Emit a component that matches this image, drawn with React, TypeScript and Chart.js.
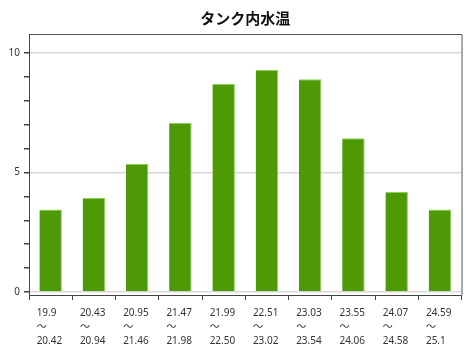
import React, { useEffect, useRef } from "react";
import { Chart, registerables } from "chart.js";

Chart.register(...registerables);

const title = "タンク内水温";
const categories: string[][] = [
  ["19.9", "～", "20.42"],
  ["20.43", "～", "20.94"],
  ["20.95", "～", "21.46"],
  ["21.47", "～", "21.98"],
  ["21.99", "～", "22.50"],
  ["22.51", "～", "23.02"],
  ["23.03", "～", "23.54"],
  ["23.55", "～", "24.06"],
  ["24.07", "～", "24.58"],
  ["24.59", "～", "25.1"],
];
const counts = [3.45, 3.93, 5.36, 7.08, 8.72, 9.29, 8.91, 6.43, 4.18, 3.45];
const yTicks = [0, 1, 2, 3, 4, 5, 6, 7, 8, 9, 10];
const yLabelled = [0, 5, 10];

const FONT = "'Noto Sans', 'Noto Sans CJK JP', sans-serif";

const framePlugin = {
  id: "frame",
  afterDraw(chart: any) {
    const { ctx, chartArea } = chart;
    ctx.save();
    ctx.strokeStyle = "#555";
    ctx.lineWidth = 1;
    ctx.beginPath();
    ctx.moveTo(chartArea.left, chartArea.top + 0.5);
    ctx.lineTo(chartArea.right + 0.5, chartArea.top + 0.5);
    ctx.lineTo(chartArea.right + 0.5, chartArea.bottom);
    ctx.stroke();
    ctx.restore();
  },
};

export default function App() {
  const ref = useRef<HTMLCanvasElement | null>(null);
  useEffect(() => {
    document.body.style.margin = "0";
    if (!ref.current) return;
    const chart = new Chart(ref.current, {
      type: "bar",
      data: {
        labels: categories,
        datasets: [
          {
            data: counts,
            backgroundColor: "#4e9a06",
            borderColor: "#8fcf55",
            borderWidth: { top: 1, right: 1, left: 0, bottom: 0 },
            borderSkipped: false,
            categoryPercentage: 1,
            barPercentage: 0.52,
          },
        ],
      },
      options: {
        animation: false,
        responsive: false,
        maintainAspectRatio: false,
        layout: { padding: { left: 0, right: 6, top: 0, bottom: 0 } },
        plugins: {
          legend: { display: false },
          tooltip: { enabled: false },
          title: {
            display: true,
            text: title,
            fullSize: false,
            color: "#111",
            font: { size: 15, weight: "bold", family: "'Noto Sans CJK JP', sans-serif", lineHeight: 1.2 },
            padding: { top: 9, bottom: 7 },
          },
        },
        scales: {
          x: {
            offset: true,
            grid: {
              offset: true,
              drawOnChartArea: false,
              drawTicks: true,
              tickLength: 5,
              tickColor: "#444",
            },
            border: { display: true, color: "#444", width: 1 },
            ticks: {
              autoSkip: false,
              maxRotation: 0,
              minRotation: 0,
              align: "start",
              labelOffset: -14,
              padding: 6,
              color: "#333",
              font: { size: 10, family: FONT, lineHeight: 1.4 },
            },
            afterFit: (s: any) => {
              s.height = 59;
            },
          },
          y: {
            min: -0.13,
            max: 10.8,
            afterBuildTicks: (s: any) => {
              s.ticks = yTicks.map((v) => ({ value: v }));
            },
            grid: {
              color: (c: any) =>
                c.tick && yLabelled.includes(c.tick.value) ? "#d9d9d9" : "rgba(0,0,0,0)",
              lineWidth: 1.5,
              tickColor: "#444",
              tickLength: 5,
            },
            border: { display: true, color: "#444", width: 1 },
            ticks: {
              padding: 4,
              color: "#333",
              font: { size: 10, family: FONT },
              callback: (v: any) => (yLabelled.includes(Number(v)) ? String(v) : ""),
            },
            afterFit: (s: any) => {
              s.width = 29;
            },
          },
        },
      },
      plugins: [framePlugin],
    });
    return () => chart.destroy();
  }, []);
  return (
    <div style={{ width: 472, height: 354 }}>
      <canvas ref={ref} width={472} height={354} style={{ display: "block" }} />
    </div>
  );
}
